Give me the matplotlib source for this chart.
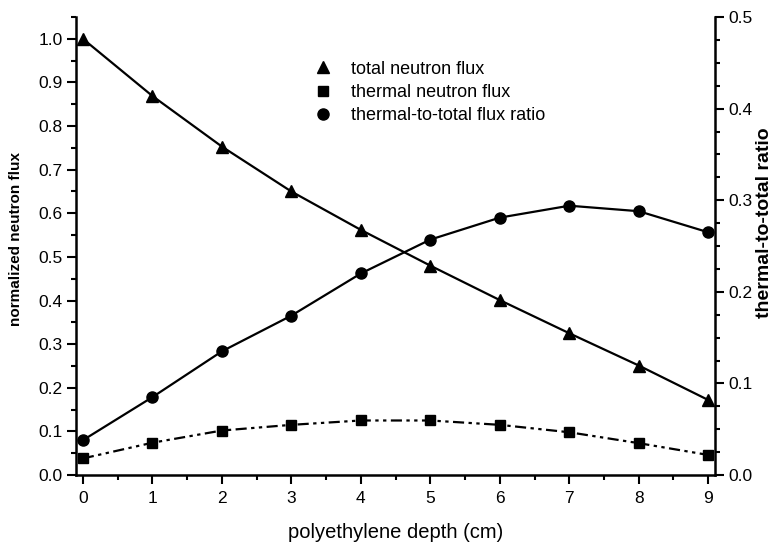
import matplotlib
matplotlib.use("Agg")
import matplotlib.pyplot as plt
from matplotlib.lines import Line2D
from matplotlib.ticker import MultipleLocator

plt.rcParams['font.family'] = ['Liberation Sans', 'DejaVu Sans']

# polyethylene depth (cm)
depth = [0, 1, 2, 3, 4, 5, 6, 7, 8, 9]
# normalized fluxes (left axis)
total_flux = [1.0, 0.869, 0.753, 0.650, 0.562, 0.480, 0.401, 0.325, 0.251, 0.172]
thermal_flux = [0.038, 0.074, 0.102, 0.115, 0.125, 0.125, 0.115, 0.098, 0.073, 0.046]
# thermal-to-total ratio (right axis)
ratio = [0.038, 0.085, 0.135, 0.174, 0.220, 0.257, 0.281, 0.294, 0.288, 0.265]

fig = plt.figure(figsize=(7.72, 5.42), dpi=100)
ax = fig.add_axes([0.0984, 0.1236, 0.828, 0.845])
ax2 = ax.twinx()

ax.plot(depth, total_flux, color='black', lw=1.6, marker='^', ms=8)
ax.plot(depth, thermal_flux, color='black', lw=1.6, marker='s', ms=6.5,
        dashes=(5, 2, 1.5, 2, 1.5, 2))
ax2.plot(depth, ratio, color='black', lw=1.6, marker='o', ms=8)

ax.set_xlim(-0.1, 9.1)
ax.set_ylim(0, 1.05)
ax2.set_ylim(0, 0.5)

ax.xaxis.set_major_locator(MultipleLocator(1))
ax.xaxis.set_minor_locator(MultipleLocator(0.5))
ax.yaxis.set_major_locator(MultipleLocator(0.1))
ax.yaxis.set_minor_locator(MultipleLocator(0.05))
ax2.yaxis.set_major_locator(MultipleLocator(0.1))
ax2.yaxis.set_minor_locator(MultipleLocator(0.025))
ax.yaxis.set_major_formatter(plt.FormatStrFormatter('%.1f'))
ax2.yaxis.set_major_formatter(plt.FormatStrFormatter('%.1f'))

for a in (ax, ax2):
    a.spines['top'].set_visible(False)
    for s in a.spines.values():
        s.set_linewidth(1.8)
    a.tick_params(which='major', length=6.5, width=1.5, labelsize=12.5, pad=3)
    a.tick_params(which='minor', length=3.5, width=1.5)
ax.tick_params(axis='x', pad=5)
ax.spines['right'].set_visible(False)
ax2.spines['left'].set_visible(False)
ax2.spines['bottom'].set_visible(False)

ax.set_xlabel('polyethylene depth (cm)', fontsize=14.5, labelpad=12)
ax.set_ylabel('normalized neutron flux', fontsize=11, fontweight='bold')
ax.yaxis.set_label_coords(-0.083, 0.515)
ax2.set_ylabel('thermal-to-total ratio', fontsize=14, fontweight='bold')
ax2.yaxis.set_label_coords(1.064, 0.552)

handles = [
    Line2D([], [], color='black', marker='^', ls='none', ms=8),
    Line2D([], [], color='black', marker='s', ls='none', ms=6.5),
    Line2D([], [], color='black', marker='o', ls='none', ms=8),
]
labels = ['total neutron flux', 'thermal neutron flux', 'thermal-to-total flux ratio']
ax.legend(handles, labels, loc='upper left', bbox_to_anchor=(0.34, 0.94),
          frameon=False, fontsize=13, handletextpad=0.8, labelspacing=0.35,
          handlelength=1.5)

fig.savefig('out.png', dpi=100)
